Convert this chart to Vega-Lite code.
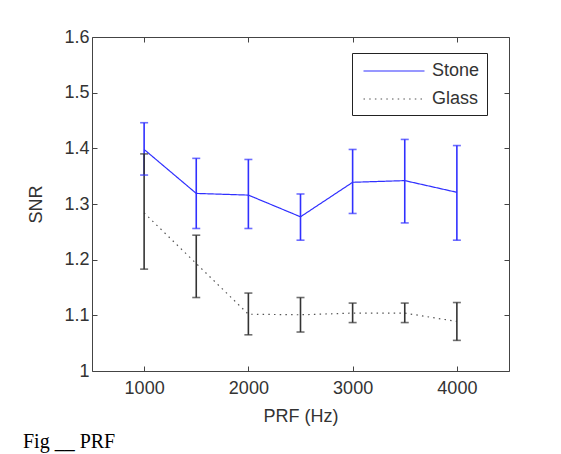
{
  "$schema": "https://vega.github.io/schema/vega-lite/v6.json",
  "width": 417,
  "height": 334,
  "autosize": "none",
  "padding": {"left": 92, "top": 37, "right": 52, "bottom": 83},
  "background": "white",
  "title": {
    "text": "Fig __ PRF",
    "orient": "bottom",
    "anchor": "start",
    "font": "Liberation Serif",
    "fontSize": 20,
    "fontWeight": "normal",
    "color": "black",
    "offset": 7,
    "dx": -5
  },
  "config": {
    "view": {"stroke": "#444", "strokeWidth": 1},
    "axis": {
      "domain": false,
      "grid": false,
      "ticks": true,
      "tickColor": "#444",
      "tickSize": -5,
      "labelFont": "Liberation Sans",
      "labelFontSize": 18,
      "labelColor": "#333",
      "titleFont": "Liberation Sans",
      "titleFontSize": 18,
      "titleFontWeight": "normal",
      "titleColor": "#333"
    },
    "legend": {
      "orient": "none",
      "legendX": 260,
      "legendY": 16,
      "strokeColor": "#222",
      "fillColor": "white",
      "padding": 7,
      "rowPadding": 8,
      "symbolType": "M-3.05,0H3.05",
      "symbolSize": 400,
      "symbolOffset": 24,
      "labelOffset": 27,
      "labelFont": "Liberation Sans",
      "labelFontSize": 18,
      "labelColor": "#333",
      "symbolStrokeWidth": 1.2
    }
  },
  "data": {
    "values": [
      {"series": "Stone", "prf": 1000, "snr": 1.398, "lo": 1.352, "hi": 1.446},
      {"series": "Stone", "prf": 1500, "snr": 1.319, "lo": 1.256, "hi": 1.382},
      {"series": "Stone", "prf": 2000, "snr": 1.316, "lo": 1.256, "hi": 1.380},
      {"series": "Stone", "prf": 2500, "snr": 1.277, "lo": 1.235, "hi": 1.318},
      {"series": "Stone", "prf": 3000, "snr": 1.339, "lo": 1.283, "hi": 1.398},
      {"series": "Stone", "prf": 3500, "snr": 1.342, "lo": 1.266, "hi": 1.416},
      {"series": "Stone", "prf": 4000, "snr": 1.321, "lo": 1.235, "hi": 1.405},
      {"series": "Glass", "prf": 1000, "snr": 1.284, "lo": 1.183, "hi": 1.390},
      {"series": "Glass", "prf": 1500, "snr": 1.193, "lo": 1.132, "hi": 1.244},
      {"series": "Glass", "prf": 2000, "snr": 1.102, "lo": 1.065, "hi": 1.140},
      {"series": "Glass", "prf": 2500, "snr": 1.101, "lo": 1.070, "hi": 1.132},
      {"series": "Glass", "prf": 3000, "snr": 1.104, "lo": 1.087, "hi": 1.122},
      {"series": "Glass", "prf": 3500, "snr": 1.104, "lo": 1.087, "hi": 1.122},
      {"series": "Glass", "prf": 4000, "snr": 1.089, "lo": 1.055, "hi": 1.123}
    ]
  },
  "layer": [
    {
      "mark": {"type": "line", "strokeWidth": 1.2},
      "encoding": {
        "x": {
          "field": "prf", "type": "quantitative",
          "scale": {"domain": [500, 4500]},
          "axis": {"orient": "bottom", "values": [1000, 2000, 3000, 4000], "format": "d", "title": "PRF (Hz)", "labelPadding": 13, "titlePadding": 10}
        },
        "y": {
          "field": "snr", "type": "quantitative",
          "scale": {"domain": [1, 1.6], "zero": false},
          "axis": {"orient": "left", "values": [1, 1.1, 1.2, 1.3, 1.4, 1.5, 1.6], "format": "~g", "title": "SNR", "labelPadding": 8, "titlePadding": 18}
        },
        "color": {
          "field": "series", "type": "nominal",
          "scale": {"domain": ["Stone", "Glass"], "range": ["#3030ff", "#555555"]},
          "legend": {"title": null}
        },
        "strokeDash": {
          "field": "series", "type": "nominal",
          "scale": {"domain": ["Stone", "Glass"], "range": [[1, 0], [1.5, 4.2]]},
          "legend": {"title": null}
        }
      }
    },
    {
      "mark": {"type": "rule", "strokeWidth": 1.6},
      "encoding": {
        "x": {"field": "prf", "type": "quantitative", "axis": {"orient": "top", "values": [1000, 2000, 3000, 4000], "labels": false, "title": null}},
        "y": {"field": "lo", "type": "quantitative", "axis": {"orient": "right", "values": [1, 1.1, 1.2, 1.3, 1.4, 1.5, 1.6], "labels": false, "title": null}},
        "y2": {"field": "hi"},
        "color": {"condition": {"test": "datum.series === 'Stone'", "value": "#3030ff"}, "value": "#333333"}
      }
    },
    {
      "mark": {"type": "tick", "orient": "horizontal", "size": 8, "thickness": 1.6},
      "encoding": {
        "x": {"field": "prf", "type": "quantitative", "axis": null},
        "y": {"field": "lo", "type": "quantitative", "axis": null},
        "color": {"condition": {"test": "datum.series === 'Stone'", "value": "#3030ff"}, "value": "#333333"}
      }
    },
    {
      "mark": {"type": "tick", "orient": "horizontal", "size": 8, "thickness": 1.6},
      "encoding": {
        "x": {"field": "prf", "type": "quantitative", "axis": null},
        "y": {"field": "hi", "type": "quantitative", "axis": null},
        "color": {"condition": {"test": "datum.series === 'Stone'", "value": "#3030ff"}, "value": "#333333"}
      }
    }
  ]
}
